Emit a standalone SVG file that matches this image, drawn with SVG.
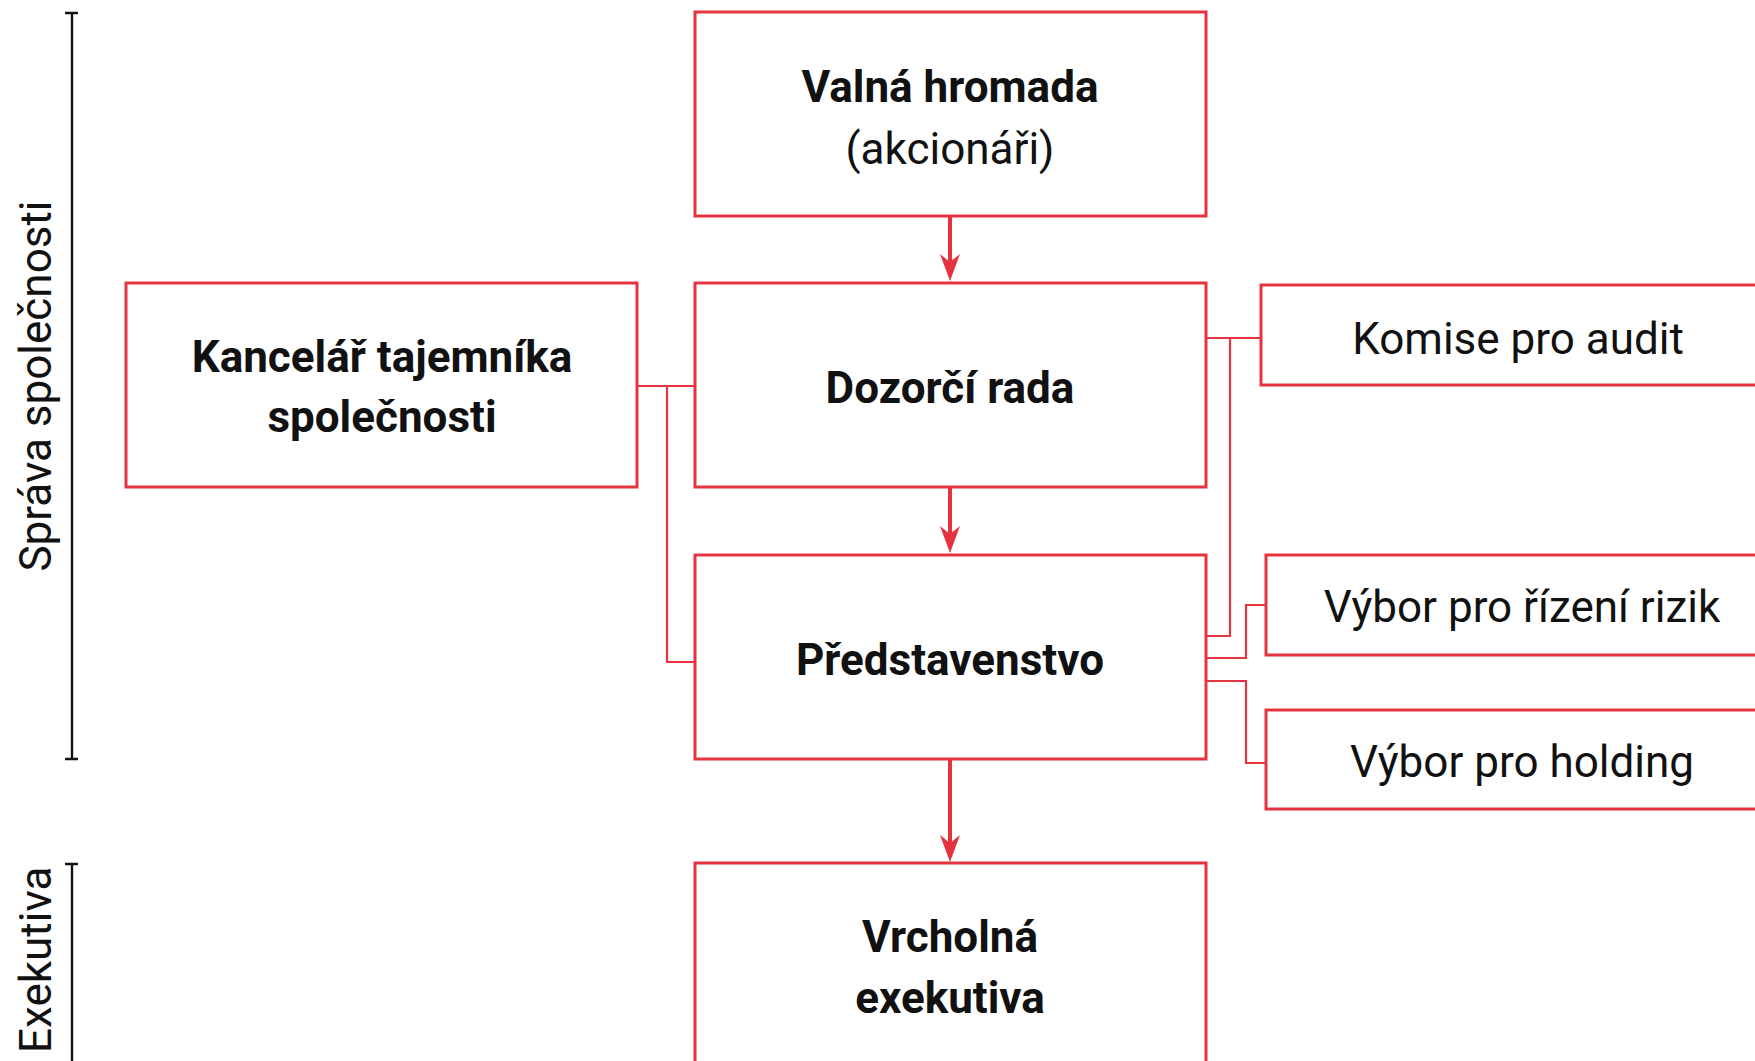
<svg xmlns="http://www.w3.org/2000/svg" width="1755" height="1061" viewBox="0 0 1755 1061">
  <style>
    .box { fill: #ffffff; stroke: #e5343f; stroke-width: 3; }
    .conn { fill: none; stroke: #e5343f; stroke-width: 2.2; }
    .arrow { fill: none; stroke: #e5343f; stroke-width: 4; }
    .bracket { fill: none; stroke: #111111; stroke-width: 2.4; }
    text { font-family: Roboto, "Liberation Sans", sans-serif; font-size: 44px; fill: #111111; }
    .b { font-weight: bold; text-anchor: middle; }
    .r { font-weight: normal; text-anchor: middle; }
    .side { font-weight: normal; }
  </style>
  <defs>
    <marker id="ah" markerUnits="userSpaceOnUse" markerWidth="30" markerHeight="22" viewBox="0 -11 30 22" refX="15" refY="0" orient="auto">
      <path d="M27,0 L0,-10 L8,0 L0,10 Z" fill="#e5343f"/>
    </marker>
  </defs>
  <rect width="1755" height="1061" fill="#ffffff"/>

  <g id="brackets">
    <path class="bracket" d="M72,13 V759 M65,13 H78 M65,759 H78"/>
    <path class="bracket" d="M72,864 V1070 M65,864 H78"/>
    <text class="side" text-anchor="middle" transform="translate(51,386) rotate(-90)">Správa společnosti</text>
    <text class="side" text-anchor="start" transform="translate(51,1053) rotate(-90)">Exekutiva</text>
  </g>

  <g id="connectors">
    <path class="arrow" d="M950,216 V269" marker-end="url(#ah)"/>
    <path class="arrow" d="M950,487 V541" marker-end="url(#ah)"/>
    <path class="arrow" d="M950,759 V850" marker-end="url(#ah)"/>
    <path class="conn" d="M637,386 H695"/>
    <path class="conn" d="M667,386 V662 H695"/>
    <path class="conn" d="M1206,338 H1261"/>
    <path class="conn" d="M1230,338 V636 H1206"/>
    <path class="conn" d="M1206,658 H1246 V605 H1266"/>
    <path class="conn" d="M1206,681 H1246 V763 H1266"/>
  </g>

  <g id="valna-hromada">
    <rect class="box" x="695" y="12" width="511" height="204"/>
    <text class="b" x="950" y="102">Valná hromada</text>
    <text class="r" x="950" y="164">(akcionáři)</text>
  </g>

  <g id="kancelar">
    <rect class="box" x="126" y="283" width="511" height="204"/>
    <text class="b" x="382" y="372">Kancelář tajemníka</text>
    <text class="b" x="382" y="432">společnosti</text>
  </g>

  <g id="dozorci-rada">
    <rect class="box" x="695" y="283" width="511" height="204"/>
    <text class="b" x="950" y="403">Dozorčí rada</text>
  </g>

  <g id="predstavenstvo">
    <rect class="box" x="695" y="555" width="511" height="204"/>
    <text class="b" x="950" y="675">Představenstvo</text>
  </g>

  <g id="vrcholna-exekutiva">
    <rect class="box" x="695" y="863" width="511" height="204"/>
    <text class="b" x="950" y="952">Vrcholná</text>
    <text class="b" x="950" y="1013">exekutiva</text>
  </g>

  <g id="komise-audit">
    <rect class="box" x="1261" y="285" width="516" height="100"/>
    <text class="r" x="1518" y="354">Komise pro audit</text>
  </g>

  <g id="vybor-rizik">
    <rect class="box" x="1266" y="555" width="512" height="100"/>
    <text class="r" x="1522" y="622">Výbor pro řízení rizik</text>
  </g>

  <g id="vybor-holding">
    <rect class="box" x="1266" y="710" width="512" height="99"/>
    <text class="r" x="1522" y="777">Výbor pro holding</text>
  </g>
</svg>
